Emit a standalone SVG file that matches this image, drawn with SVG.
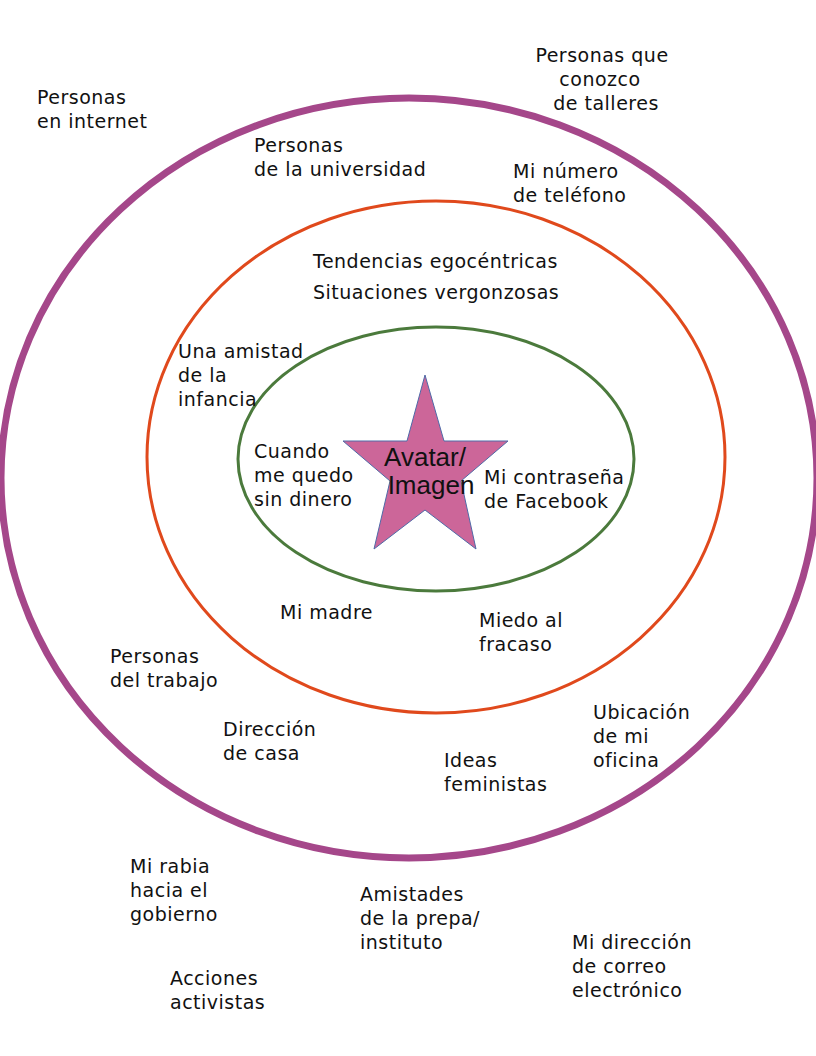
<svg xmlns="http://www.w3.org/2000/svg" width="816" height="1056" viewBox="0 0 816 1056">
<style>
.t{font-family:"DejaVu Sans",sans-serif;font-size:19px;letter-spacing:0.5px;fill:#111}
.ring{fill:none}
.av{font-family:"Liberation Sans",Arial,sans-serif;font-size:26px;fill:#111}
</style>
<rect width="816" height="1056" fill="#fff"/>
<g id="ring-outer"><ellipse class="ring" cx="409" cy="478" rx="408" ry="380" stroke="#A5478A" stroke-width="7"/></g>
<g id="ring-middle"><ellipse class="ring" cx="436" cy="457" rx="289" ry="256" stroke="#E0491C" stroke-width="3"/></g>
<g id="ring-inner"><ellipse class="ring" cx="436" cy="459" rx="198" ry="132" stroke="#4B7A3C" stroke-width="3"/></g>
<g id="star">
<polygon points="425,375 444,441 508,441 461,481 476,549 425,510 374,549 390,481 343,441 407,441" fill="#CC6699" stroke="#4F6AA8" stroke-width="1"/>
<text class="av" x="425" y="466" text-anchor="middle">Avatar/</text>
<text class="av" x="431" y="494" text-anchor="middle">Imagen</text>
</g>
<g id="connectors"></g>
<g id="n-internet"><text class="t" x="37" y="104">Personas</text><text class="t" x="37" y="128">en internet</text></g>
<g id="n-talleres"><text class="t" x="602" y="62" text-anchor="middle">Personas que</text><text class="t" x="600" y="86" text-anchor="middle">conozco</text><text class="t" x="606" y="110" text-anchor="middle">de talleres</text></g>
<g id="n-universidad"><text class="t" x="254" y="152">Personas</text><text class="t" x="254" y="176">de la universidad</text></g>
<g id="n-telefono"><text class="t" x="513" y="178">Mi número</text><text class="t" x="513" y="202">de teléfono</text></g>
<g id="n-tendencias"><text class="t" x="313" y="268">Tendencias egocéntricas</text></g>
<g id="n-situaciones"><text class="t" x="313" y="299">Situaciones vergonzosas</text></g>
<g id="n-amistad"><text class="t" x="178" y="358">Una amistad</text><text class="t" x="178" y="382">de la</text><text class="t" x="178" y="406">infancia</text></g>
<g id="n-dinero"><text class="t" x="254" y="458">Cuando</text><text class="t" x="254" y="482">me quedo</text><text class="t" x="254" y="506">sin dinero</text></g>
<g id="n-contrasena"><text class="t" x="484" y="484">Mi contraseña</text><text class="t" x="484" y="508">de Facebook</text></g>
<g id="n-madre"><text class="t" x="280" y="619">Mi madre</text></g>
<g id="n-miedo"><text class="t" x="479" y="627">Miedo al</text><text class="t" x="479" y="651">fracaso</text></g>
<g id="n-trabajo"><text class="t" x="110" y="663">Personas</text><text class="t" x="110" y="687">del trabajo</text></g>
<g id="n-casa"><text class="t" x="223" y="736">Dirección</text><text class="t" x="223" y="760">de casa</text></g>
<g id="n-oficina"><text class="t" x="593" y="719">Ubicación</text><text class="t" x="593" y="743">de mi</text><text class="t" x="593" y="767">oficina</text></g>
<g id="n-ideas"><text class="t" x="444" y="767">Ideas</text><text class="t" x="444" y="791">feministas</text></g>
<g id="n-rabia"><text class="t" x="130" y="873">Mi rabia</text><text class="t" x="130" y="897">hacia el</text><text class="t" x="130" y="921">gobierno</text></g>
<g id="n-prepa"><text class="t" x="360" y="901">Amistades</text><text class="t" x="360" y="925">de la prepa/</text><text class="t" x="360" y="949">instituto</text></g>
<g id="n-correo"><text class="t" x="572" y="949">Mi dirección</text><text class="t" x="572" y="973">de correo</text><text class="t" x="572" y="997">electrónico</text></g>
<g id="n-acciones"><text class="t" x="170" y="985">Acciones</text><text class="t" x="170" y="1009">activistas</text></g>
</svg>
